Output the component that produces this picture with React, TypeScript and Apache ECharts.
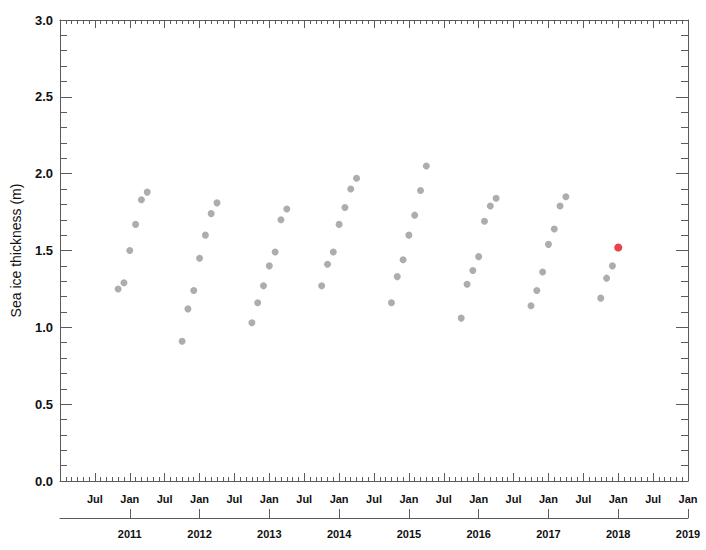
import { useEffect, useRef } from 'react'
import * as echarts from 'echarts'

// first month of each winter season, then monthly thickness values (m)
const seasonStarts = ['2010-11', '2011-10', '2012-10', '2013-10', '2014-10', '2015-10', '2016-10', '2017-10']

const winter2010 = [1.25, 1.29, 1.5, 1.67, 1.83, 1.88]
const winter2011 = [0.91, 1.12, 1.24, 1.45, 1.6, 1.74, 1.81]
const winter2012 = [1.03, 1.16, 1.27, 1.4, 1.49, 1.7, 1.77]
const winter2013 = [1.27, 1.41, 1.49, 1.67, 1.78, 1.9, 1.97]
const winter2014 = [1.16, 1.33, 1.44, 1.6, 1.73, 1.89, 2.05]
const winter2015 = [1.06, 1.28, 1.37, 1.46, 1.69, 1.79, 1.84]
const winter2016 = [1.14, 1.24, 1.36, 1.54, 1.64, 1.79, 1.85]
const winter2017 = [1.19, 1.32, 1.4]

const seasons = [winter2010, winter2011, winter2012, winter2013, winter2014, winter2015, winter2016, winter2017]

const latestMonth = '2018-01'
const latestValue = 1.52

const baseYear = 2010
const yTicks = ['0.0', '0.5', '1.0', '1.5', '2.0', '2.5', '3.0']

// months since Jan of baseYear
const monthIndex = (ym: string) => {
  const [y, m] = ym.split('-').map(Number)
  return (y - baseYear) * 12 + (m - 1)
}

const greyPoints: number[][] = []
seasons.forEach((vals, i) => {
  const start = monthIndex(seasonStarts[i])
  vals.forEach((v, j) => greyPoints.push([start + j, v]))
})

const axisColor = '#5a5a5a'
const font = 'Liberation Sans, Arial, Helvetica, sans-serif'

function SeaIceChart() {
  const chartRef = useRef<HTMLDivElement>(null)

  useEffect(() => {
    if (!chartRef.current) return
    const chart = echarts.init(chartRef.current, null, { renderer: 'svg' })

    const monthAxis = {
      type: 'value',
      min: 0,
      max: 108,
      interval: 6,
      splitLine: { show: false },
      axisLine: { show: true, onZero: false, lineStyle: { color: axisColor, width: 1 } },
      axisTick: { show: true, inside: true, length: 8, lineStyle: { color: axisColor } },
      minorTick: { show: true, splitNumber: 6, length: 4, lineStyle: { color: axisColor } },
    }

    const thicknessAxis = {
      type: 'value',
      min: 0,
      max: 3,
      interval: 0.5,
      splitLine: { show: false },
      axisLine: { show: true, onZero: false, lineStyle: { color: axisColor, width: 1 } },
      axisTick: { show: true, inside: true, length: 12, lineStyle: { color: axisColor } },
      minorTick: { show: true, splitNumber: 5, length: 7, lineStyle: { color: axisColor } },
    }

    chart.setOption({
      animation: false,
      textStyle: { fontFamily: font },
      grid: { left: 60, right: 18, top: 20, bottom: 69 },
      xAxis: [
        {
          ...monthAxis,
          position: 'bottom',
          axisLabel: {
            showMinLabel: false,
            margin: 12,
            color: '#111',
            fontSize: 11,
            fontWeight: 'bold',
            formatter: (v: number) => (v % 12 === 0 ? 'Jan' : 'Jul'),
          },
        },
        {
          ...monthAxis,
          position: 'top',
          axisLabel: { show: false },
        },
        {
          type: 'value',
          position: 'bottom',
          offset: 37,
          min: 0,
          max: 108,
          interval: 12,
          splitLine: { show: false },
          axisLine: { show: true, onZero: false, lineStyle: { color: axisColor, width: 1 } },
          axisTick: { show: true, inside: true, length: 9, lineStyle: { color: axisColor } },
          axisLabel: {
            showMinLabel: false,
            margin: 10,
            color: '#111',
            fontSize: 11,
            fontWeight: 'bold',
            formatter: (v: number) => String(baseYear + v / 12),
          },
        },
      ],
      yAxis: [
        {
          ...thicknessAxis,
          position: 'left',
          name: 'Sea ice thickness (m)',
          nameLocation: 'middle',
          nameGap: 37,
          nameTextStyle: { color: '#111', fontSize: 14 },
          axisLabel: {
            margin: 7,
            color: '#111',
            fontSize: 13,
            fontWeight: 'bold',
            formatter: (v: number) => yTicks[Math.round(v * 2)] ?? v.toFixed(1),
          },
        },
        {
          ...thicknessAxis,
          position: 'right',
          axisLabel: { show: false },
        },
      ],
      series: [
        {
          type: 'scatter',
          data: greyPoints,
          symbolSize: 7,
          itemStyle: { color: '#999999' },
        },
        {
          type: 'scatter',
          data: [[monthIndex(latestMonth), latestValue]],
          symbolSize: 8,
          itemStyle: { color: '#e5131d' },
        },
      ],
    })

    return () => {
      chart.dispose()
    }
  }, [])

  return (
    <div
      ref={chartRef}
      style={{ position: 'fixed', left: 0, top: 0, width: 706, height: 550, background: '#fff' }}
    />
  )
}

export default SeaIceChart
